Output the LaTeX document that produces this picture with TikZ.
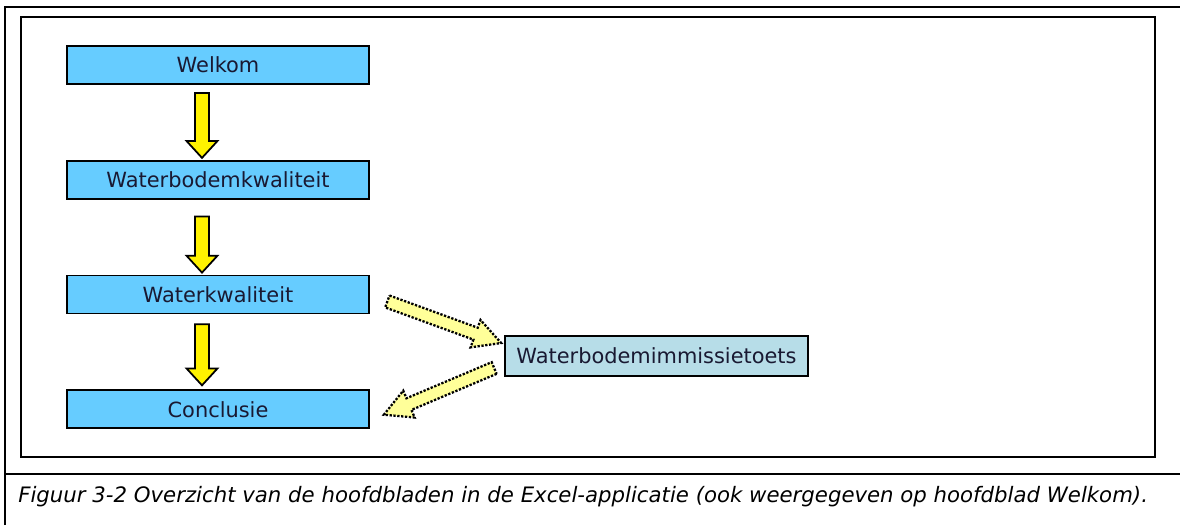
\documentclass[tikz,border=0pt]{standalone}
\usepackage{fontspec}
\setmainfont{DejaVu Sans}
\usetikzlibrary{calc,positioning}
\definecolor{bladblauw}{RGB}{102,204,255}
\definecolor{toetsblauw}{RGB}{183,221,232}
\definecolor{lichtgeel}{RGB}{255,255,153}
\definecolor{inkt}{RGB}{25,25,50}
% dikke pijl: stijl, van, naar, halve schacht, halve kop, koplengte (in pt)
\newcommand{\dikpijl}[6]{%
	\draw[#1] let \p1=($(#3)-(#2)$), \n1={atan2(\y1,\x1)}, \n2={veclen(\x1,\y1)} in
	($(#2)+(\n1+90:#4pt)$) -- ++(\n1:{(\n2-#6)*1pt}) -- ++(\n1+90:{(#5-#4)*1pt}) -- (#3)
	-- ($(#3)+(\n1+180:#6pt)+(\n1-90:#5pt)$) -- ++(\n1+90:{(#5-#4)*1pt}) -- ($(#2)+(\n1-90:#4pt)$) -- cycle;}
\begin{document}
\begin{tikzpicture}[x=0.02cm,y=-0.02cm,line join=miter,node distance=1.5cm,
	blad/.style={draw,line width=1pt,fill=bladblauw,minimum width=6.04cm,minimum height=0.76cm,inner sep=0pt,text=inkt,font=\fontsize{11.9}{13}\selectfont},
	toets/.style={blad,fill=toetsblauw,minimum width=6.06cm,minimum height=0.8cm},
	geelpijl/.style={draw,line width=1pt,fill=yellow},
	stippijl/.style={draw,line width=1.3pt,dash pattern=on 1.3pt off 0.9pt,fill=lichtgeel}]
	\useasboundingbox (0,0) rectangle (1180,525);
	% kaders
	\draw[line width=1.1pt] (5,525) -- (5,7) -- (1180,7) (5,474) -- (1180,474);
	\draw[line width=1.5pt] (21,17) rectangle (1155,457);
	% hoofdbladen
	\node[blad] (welkom) at (218,65) {Welkom};
	\node[blad,below=of welkom] (wbkwal) {Waterbodemkwaliteit};
	\node[blad,below=of wbkwal] (wkwal) {Waterkwaliteit};
	\node[blad,below=of wkwal] (concl) {Conclusie};
	\node[toets] (wbit) at (656.5,356) {Waterbodemimmissietoets};
	% eindpunten van de pijlen
	\coordinate (p1a) at ($(welkom.south)+(-16,8)$);
	\coordinate (p1b) at ($(wbkwal.north)+(-16,-2)$);
	\coordinate (p2a) at ($(wbkwal.south)+(-16,17)$);
	\coordinate (p2b) at ($(wkwal.north)+(-16,-2)$);
	\coordinate (p3a) at ($(wkwal.south)+(-16,10)$);
	\coordinate (p3b) at ($(concl.north)+(-16,-4)$);
	\coordinate (s1a) at ($(wkwal.east)+(17.5,7)$);
	\coordinate (s1b) at ($(wbit.west)+(-3,-13)$);
	\coordinate (s2a) at ($(wbit.west)+(-10,12)$);
	\coordinate (s2b) at ($(concl.east)+(14,5.5)$);
	\foreach \a/\b in {p1a/p1b,p2a/p2b,p3a/p3b}
		{\dikpijl{geelpijl}{\a}{\b}{4}{8.8}{9.6}}
	\dikpijl{stippijl}{s1a}{s1b}{3.6}{8.3}{15.5}
	\dikpijl{stippijl}{s2a}{s2b}{3.6}{8.3}{15.5}
	% bijschrift
	\node[anchor=west,inner sep=0pt,font=\fontsize{12.1}{14}\selectfont\itshape] (bijschrift) at (18,497)
		{Figuur 3-2 Overzicht van de hoofdbladen in de Excel-applicatie (ook weergegeven op hoofdblad Welkom).};
\end{tikzpicture}
\end{document}
